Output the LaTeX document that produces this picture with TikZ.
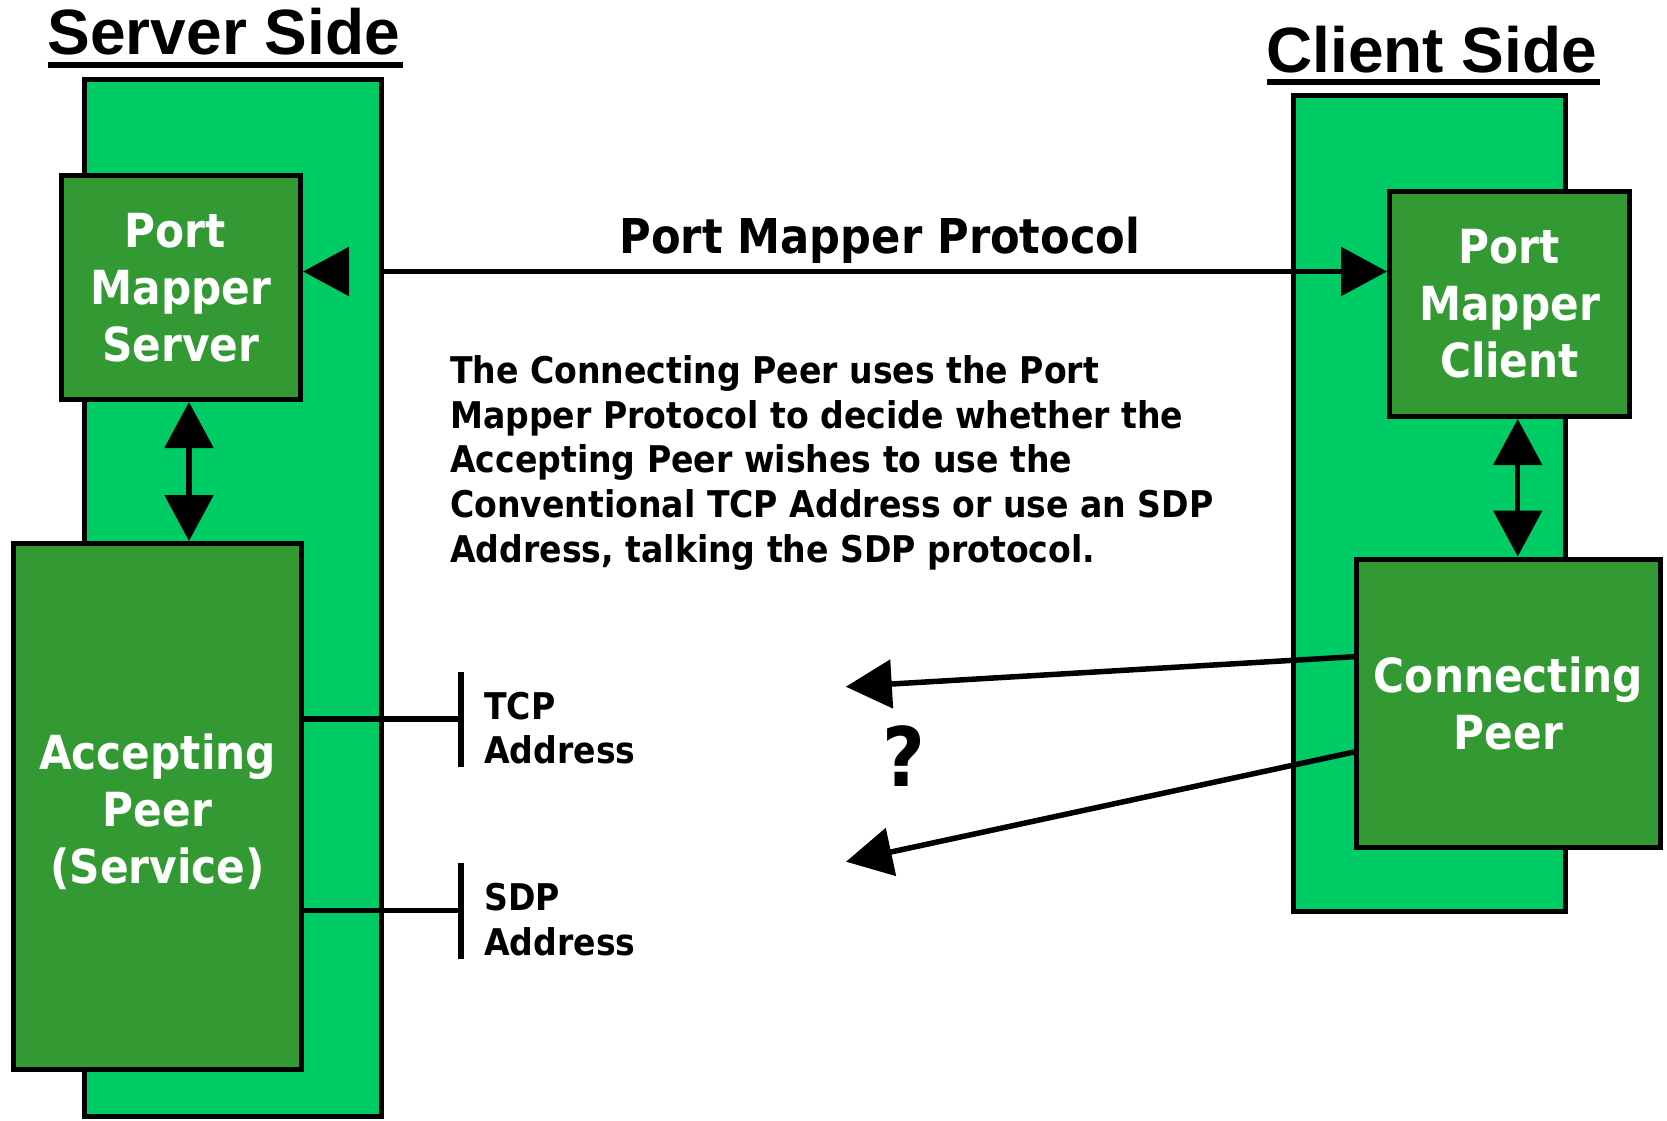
\documentclass[tikz,border=0pt]{standalone}
\usepackage{fontspec}
\usetikzlibrary{arrows.meta,calc}
\newfontfamily\cnd{DejaVu Sans Condensed}
\newfontfamily\hdrf{Liberation Sans}
\definecolor{lgreen}{RGB}{0,204,102}
\definecolor{dgreen}{RGB}{51,153,51}
\begin{document}
\begin{tikzpicture}[x=1pt,y=-1pt,
  panel/.style={rectangle, draw=black, line width=5pt, fill=lgreen, inner sep=0pt, outer sep=2.5pt},
  unit/.style={rectangle, draw=black, line width=5pt, fill=dgreen, inner sep=0pt, outer sep=2.5pt,
    text=white, align=center, font=\cnd\bfseries\fontsize{47}{57}\selectfont},
  conn/.style={line width=5.5pt},
  tip/.style={-{Triangle[length=46pt,width=48pt]}},
  dtip/.style={{Triangle[length=46pt,width=48pt]}-{Triangle[length=46pt,width=48pt]}},
  body/.style={font=\cnd\bfseries\fontsize{36.8}{44.7}\selectfont, align=left, inner sep=0pt},
  title/.style={font=\hdrf\bfseries\fontsize{64}{70}\selectfont, inner sep=0pt}
]
\useasboundingbox (0,0) rectangle (1667,1121);
\fill[white] (0,0) rectangle (1667,1121);

% side panels
\node[panel, minimum width=296.5pt, minimum height=1036.5pt] (srv) at (232.75,597.75) {};
\node[panel, minimum width=272pt, minimum height=816pt] (cli) at (1429.5,503.5) {};

% units
\node[unit, minimum width=239pt, minimum height=224pt] (pms) at (181,287.5) {Port\hspace*{12pt}\\Mapper\hspace*{12pt}\\Server};
\node[unit, minimum width=288pt, minimum height=525.5pt] (ap) at (157.5,806.25) {\rule{0pt}{46pt}Accepting\\Peer\\(Service)};
\node[unit, minimum width=240pt, minimum height=225pt] (pmc) at (1509.5,304) {Port\\Mapper\\Client};
\node[unit, minimum width=304pt, minimum height=288.5pt] (cp) at (1508.5,703.25) {Connecting\\Peer};

% titles
\node[title, anchor=base west] (sst) at (47.5,55) {Server Side};
\draw[line width=6pt] ($(sst.base west)+(0,10)$) -- ($(sst.base east)+(3,10)$);
\node[title, anchor=base west] (cst) at (1266,73) {Client Side};
\draw[line width=6pt] ($(cst.base west)+(1,9)$) -- ($(cst.base east)+(3,9)$);

% port mapper protocol
\node[font=\cnd\bfseries\fontsize{48}{56}\selectfont, anchor=base, inner sep=0pt] (pmp) at (880,253.6) {Port Mapper Protocol};
\draw[conn, tip] (srv.east |- 0,271.5) -- (pmc.west |- 0,271.5);
\draw[conn, tip] ($(pms.east |- 0,271.5)+(46,0)$) -- (pms.east |- 0,271.5);

% vertical double arrows
\coordinate (xa) at (189,0);
\coordinate (xb) at (1517.7,0);
\draw[conn, dtip] (pms.south -| xa) -- (ap.north -| xa);
\draw[conn, dtip] (pmc.south -| xb) -- (cp.north -| xb);

% description
\node[body, anchor=north west] (desc) at (450,355.3) {The Connecting Peer uses the Port\\Mapper Protocol to decide whether the\\Accepting Peer wishes to use the\\Conventional TCP Address or use an SDP\\Address, talking the SDP protocol.};

% addresses
\coordinate (tcpa) at (461,672);
\coordinate (tcpb) at (461,766.7);
\coordinate (tcpj) at (461,719);
\coordinate (sdpa) at (461,863);
\coordinate (sdpb) at (461,959);
\coordinate (sdpj) at (461,910.7);
\draw[conn] (tcpa) -- (tcpb);
\draw[conn] (sdpa) -- (sdpb);
\draw[conn] (ap.east |- tcpj) -- (tcpj);
\draw[conn] (ap.east |- sdpj) -- (sdpj);
\node[body, anchor=north west] (tcp) at (484,691.5) {TCP\\Address};
\node[body, anchor=north west] (sdp) at (484,883) {SDP\\Address};

% connecting peer arrows
\coordinate (q1) at (845.8,686.7);
\coordinate (q2) at (846,861.7);
\draw[conn, tip] (cp.west |- 0,656.7) -- (q1);
\draw[conn, tip] (cp.west |- 0,752) -- (q2);
\node[font=\cnd\bfseries\fontsize{82}{82}\selectfont, anchor=base, inner sep=0pt] (qm) at (904,786.7) {?};
\end{tikzpicture}
\end{document}
